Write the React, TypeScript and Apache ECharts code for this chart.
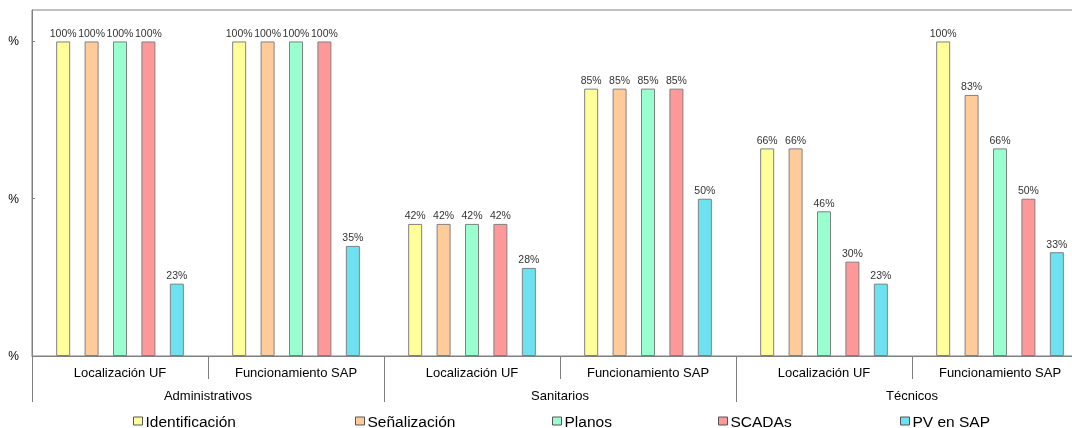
import React, { useEffect, useRef } from "react";
import * as echarts from "echarts";

const subCategories = [
  "Localización UF",
  "Funcionamiento SAP",
  "Localización UF",
  "Funcionamiento SAP",
  "Localización UF",
  "Funcionamiento SAP",
];
const mainCategories = ["Administrativos", "Sanitarios", "Técnicos"];

const seriesNames = ["Identificación", "Señalización", "Planos", "SCADAs", "PV en SAP"];
const identificacion = [100, 100, 42, 85, 66, 100];
const senalizacion = [100, 100, 42, 85, 66, 83];
const planos = [100, 100, 42, 85, 46, 66];
const scadas = [100, 100, 42, 85, 30, 50];
const pvEnSap = [23, 35, 28, 50, 23, 33];
const seriesValues = [identificacion, senalizacion, planos, scadas, pvEnSap];

const colors = ["#FFFF99", "#FFCC99", "#99FFCC", "#FF9999", "#6CE2F0"];
const legendLeft = [133, 355, 552, 718, 900];

const FONT = 'Arial, "Liberation Sans", sans-serif';

export default function App() {
  const ref = useRef<HTMLDivElement>(null);
  useEffect(() => {
    if (!ref.current) return;
    const chart = echarts.init(ref.current, null, { renderer: "svg" });
    const option = {
      animation: false,
      grid: {
        left: 32,
        top: 10,
        right: 0,
        bottom: 72,
        show: true,
        borderColor: "#808080",
        borderWidth: 1,
        backgroundColor: "transparent",
      },
      legend: seriesNames.map((n, i) => ({
        data: [n],
        left: legendLeft[i],
        top: 413,
        padding: 0,
        itemWidth: 9,
        itemHeight: 8,
        icon: "rect",
        itemStyle: { borderColor: "#555", borderWidth: 1 },
        textStyle: { fontSize: 15.5, fontFamily: FONT, color: "#000", padding: [0, 0, 0, -2] },
      })),
      xAxis: [
        {
          type: "category",
          data: subCategories,
          position: "bottom",
          axisLine: { show: true, lineStyle: { color: "#808080" } },
          axisTick: { show: true, length: 23, lineStyle: { color: "#808080" } },
          axisLabel: { margin: 10, fontSize: 13, fontFamily: FONT, color: "#000", interval: 0 },
        },
        {
          type: "category",
          data: mainCategories,
          position: "bottom",
          gridIndex: 0,
          axisLine: { show: false },
          axisTick: { show: true, length: 46, lineStyle: { color: "#808080" } },
          axisLabel: { margin: 33, fontSize: 13, fontFamily: FONT, color: "#000", interval: 0 },
        },
      ],
      yAxis: {
        type: "value",
        min: 0,
        max: 110,
        interval: 50,
        axisLine: { show: true, lineStyle: { color: "#808080" } },
        axisTick: { show: true, inside: true, length: 3, lineStyle: { color: "#808080" } },
        splitLine: { show: false },
        axisLabel: {
          showMaxLabel: false,
          margin: 13,
          fontSize: 12,
          fontFamily: FONT,
          color: "#000",
          formatter: (v: number) => (v === 110 ? "" : "%"),
        },
      },
      series: seriesNames.map((n, i) => ({
        name: n,
        type: "bar",
        xAxisIndex: 0,
        data: seriesValues[i],
        barWidth: 14,
        barGap: "103%",
        itemStyle: { color: colors[i], borderColor: "#808080", borderWidth: 1 },
        label: {
          show: true,
          position: "top",
          distance: 3,
          fontSize: 10.5,
          fontFamily: FONT,
          color: "#333",
          formatter: (p: any) => p.value + "%",
        },
      })),
    };
    chart.setOption(option as any);
    return () => chart.dispose();
  }, []);
  return (
    <div
      style={{
        position: "fixed",
        left: 0,
        top: 0,
        width: 1072,
        height: 428,
        overflow: "hidden",
      }}
    >
      <div ref={ref} style={{ width: 1088, height: 428 }} />
    </div>
  );
}
